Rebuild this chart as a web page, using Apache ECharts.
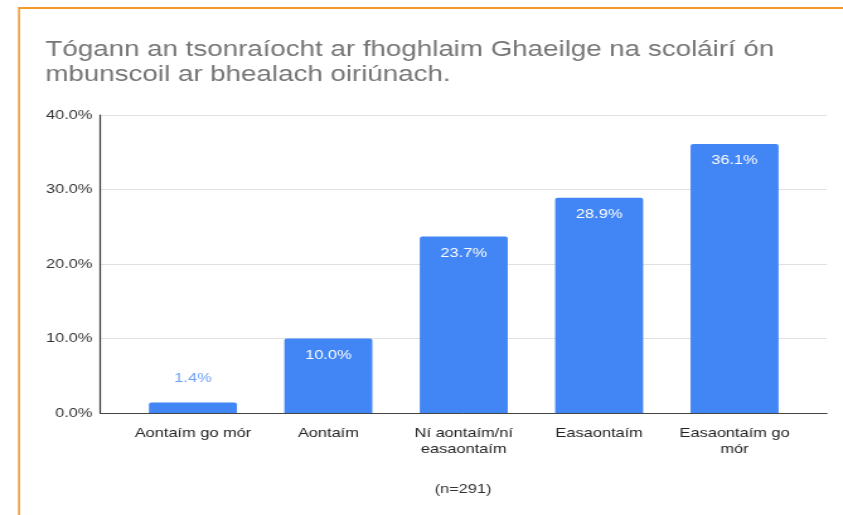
<!DOCTYPE html>
<html>
<head>
<meta charset="utf-8">
<script src="https://cdn.jsdelivr.net/npm/echarts@6/dist/echarts.min.js"></script>
<style>
  html, body { margin: 0; padding: 0; background: #fff; overflow: hidden; }
  /* the reference picture is a horizontally stretched screenshot, so the chart
     is drawn narrower and stretched back out to 843px */
  #chart { width: 669px; height: 515px; transform: scaleX(1.26); transform-origin: 0 0; }
</style>
</head>
<body>
<div id="chart"></div>
<script>
let categories = ['Aontaím go mór', 'Aontaím', 'Ní aontaím/ní easaontaím', 'Easaontaím', 'Easaontaím go mór']
let values = [1.4, 10.0, 23.7, 28.9, 36.1]
let yTicks = [0, 10, 20, 30, 40]
let titleText = 'Tógann an tsonraíocht ar fhoghlaim Ghaeilge na scoláirí ón\nmbunscoil ar bhealach oiriúnach.'
let noteText = '(n=291)'

// where the long axis labels wrap
let wrapped = {
    'Ní aontaím/ní easaontaím': 'Ní aontaím/ní\neasaontaím',
    'Easaontaím go mór': 'Easaontaím go\nmór'
}

let font = 'Liberation Sans, Arial, sans-serif'

;(function () {
    let chart = echarts.init(document.querySelector('#chart'))

    // small bars get the label above, in blue
    let barData = values.map(v => {
        if (v < 5) {
            return {
                value: v,
                label: { position: 'top', distance: 18, color: '#6d9ef5' }
            }
        }
        return { value: v }
    })

    let option = {
        animation: false,
        textStyle: { fontFamily: font },
        title: {
            text: titleText,
            left: 31,
            top: 32,
            textStyle: {
                fontFamily: font,
                fontSize: 22,
                fontWeight: 'normal',
                color: '#757575',
                lineHeight: 25
            }
        },
        graphic: [
            {
                type: 'line',
                shape: { x1: 15.1, y1: 8, x2: 669, y2: 8 },
                style: { stroke: '#f39a2a', lineWidth: 2 }
            },
            {
                type: 'line',
                shape: { x1: 15.1, y1: 7, x2: 15.1, y2: 515 },
                style: { stroke: '#f39a2a', lineWidth: 1.6 }
            },
            {
                type: 'text',
                x: 367.5,
                y: 483,
                style: { text: noteText, fill: '#333', font: '13px ' + font, textAlign: 'center' }
            }
        ],
        grid: [
            { left: 79.4, right: 12.7, top: 115, bottom: 102 },
            { left: 99.4, right: 32.3, top: 115, bottom: 102 }
        ],
        xAxis: [
            {
                gridIndex: 0,
                type: 'value',
                min: 0,
                max: 1,
                axisLine: { show: true, lineStyle: { color: '#444', width: 1 } },
                axisTick: { show: false },
                axisLabel: { show: false },
                splitLine: { show: false }
            },
            {
                gridIndex: 1,
                type: 'category',
                data: categories,
                axisLine: { show: false },
                axisTick: { show: false },
                axisLabel: {
                    color: '#222',
                    fontSize: 13,
                    margin: 12,
                    lineHeight: 16,
                    interval: 0,
                    formatter: v => wrapped[v] || v
                }
            }
        ],
        yAxis: [
            {
                gridIndex: 0,
                type: 'value',
                min: yTicks[0],
                max: yTicks[yTicks.length - 1],
                interval: 10,
                axisLine: { show: true, lineStyle: { color: '#333', width: 1.2 } },
                axisTick: { show: false },
                axisLabel: {
                    color: '#333',
                    fontSize: 13,
                    margin: 6,
                    formatter: v => v.toFixed(1) + '%'
                },
                splitLine: { lineStyle: { color: '#e0e0e0' } }
            },
            {
                gridIndex: 1,
                type: 'value',
                min: yTicks[0],
                max: yTicks[yTicks.length - 1],
                show: false
            }
        ],
        series: [
            {
                type: 'bar',
                xAxisIndex: 1,
                yAxisIndex: 1,
                data: barData,
                barWidth: '65%',
                itemStyle: {
                    color: '#4285f4',
                    borderRadius: [2, 2, 0, 0]
                },
                label: {
                    show: true,
                    position: 'insideTop',
                    distance: 10,
                    color: '#fff',
                    fontSize: 13,
                    formatter: p => p.value.toFixed(1) + '%'
                }
            }
        ]
    }
    chart.setOption(option)
    window.addEventListener('resize', function () {
        chart.resize()
    })
})()
</script>
</body>
</html>
